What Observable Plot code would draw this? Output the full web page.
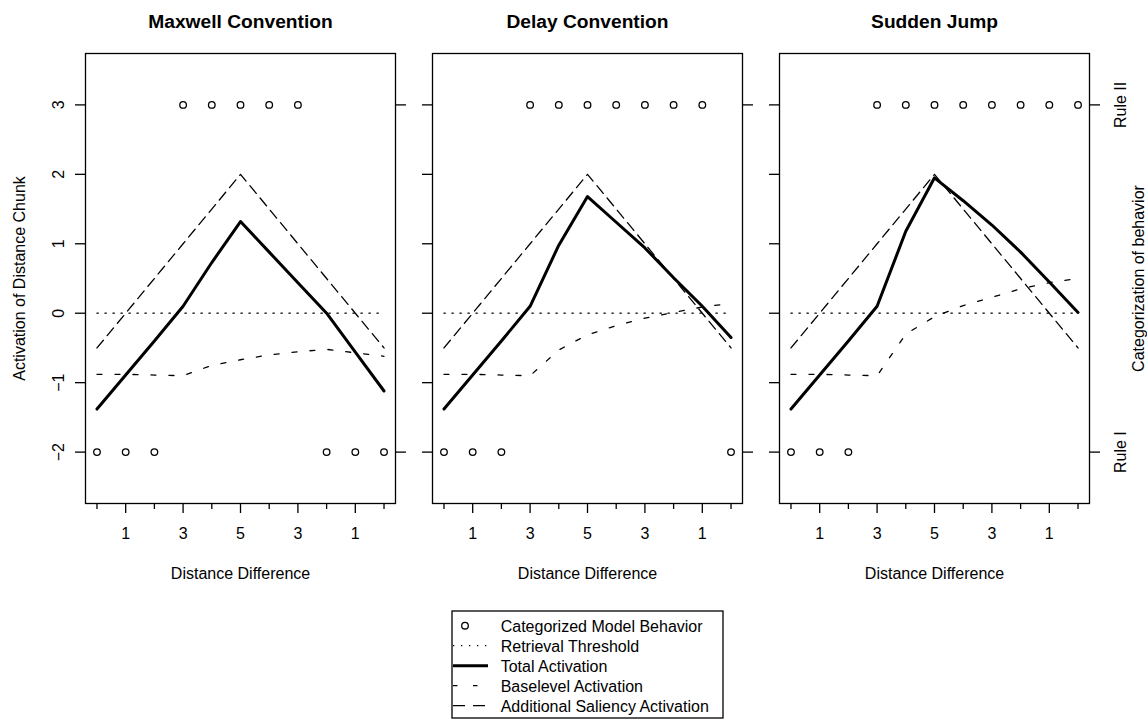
<!DOCTYPE html>
<html>
<head>
<meta charset="utf-8">
<script src="https://cdn.jsdelivr.net/npm/d3@7"></script>
<script src="https://cdn.jsdelivr.net/npm/@observablehq/plot@0.6"></script>
<style>
  body { margin: 0; background: #fff; }
  #chart { position: relative; width: 1147px; height: 723px; background: #fff;
           font-family: "Liberation Sans", Arial, Helvetica, sans-serif; color: #000; }
  .panel { position: absolute; top: 0; }
  #legend { position: absolute; left: 0; top: 0; }
</style>
</head>
<body>
<div id="chart"></div>
<script>
// ---------- data ----------
const positions = [0, 1, 2, 3, 4, 5, 6, 7, 8, 9, 10];
const xTickPos = [1, 3, 5, 7, 9];
const xTickLabels = ["1", "3", "5", "3", "1"];
const xMinorTicks = [0, 2, 4, 6, 8, 10];
const yTicks = [-2, -1, 0, 1, 2, 3];
const yTickLabels = ["\u22122", "\u22121", "0", "1", "2", "3"];
const ruleTicks = [3, -2];
const ruleLabels = ["Rule II", "Rule I"];
const threshold = 0;

const saliency = [-0.5, 0, 0.5, 1, 1.5, 2, 1.5, 1, 0.5, 0, -0.5];

const maxwellTotal = [-1.38, -0.89, -0.40, 0.10, 0.73, 1.32, 0.88, 0.44, 0.00, -0.56, -1.12];
const maxwellBase  = [-0.88, -0.88, -0.89, -0.90, -0.75, -0.67, -0.60, -0.555, -0.52, -0.57, -0.62];
const maxwellCat   = [-2, -2, -2, 3, 3, 3, 3, 3, -2, -2, -2];

const delayTotal = [-1.38, -0.89, -0.40, 0.10, 0.98, 1.68, 1.31, 0.94, 0.51, 0.10, -0.35];
const delayBase  = [-0.88, -0.88, -0.89, -0.90, -0.53, -0.31, -0.18, -0.07, 0.01, 0.09, 0.14];
const delayCat   = [-2, -2, -2, 3, 3, 3, 3, 3, 3, 3, -2];

const jumpTotal = [-1.38, -0.89, -0.40, 0.10, 1.18, 1.95, 1.62, 1.27, 0.88, 0.45, 0.01];
const jumpBase  = [-0.88, -0.88, -0.89, -0.90, -0.30, -0.05, 0.11, 0.23, 0.35, 0.44, 0.50];
const jumpCat   = [-2, -2, -2, 3, 3, 3, 3, 3, 3, 3, 3];

const panelTitles = ["Maxwell Convention", "Delay Convention", "Sudden Jump"];
const xTitle = "Distance Difference";
const yTitle = "Activation of Distance Chunk";
const y2Title = "Categorization of behavior";
const legendLabels = ["Categorized Model Behavior", "Retrieval Threshold", "Total Activation",
                      "Baselevel Activation", "Additional Saliency Activation"];

// ---------- drawing ----------
const FONT = "'Liberation Sans', Arial, Helvetica, sans-serif";
const LW = 1.3;
const DASH_SAL = "10,6";
const DASH_BASE = "5,13";
const DASH_THR = "1.3,6.7";

function panel(cfg) {
  const rows = positions.map((p, i) => ({
    p, total: cfg.total[i], base: cfg.base[i], sal: saliency[i], cat: cfg.cat[i], thr: threshold
  }));
  const marks = [
    Plot.frame({stroke: "#000", strokeWidth: LW}),
    Plot.line(rows, {x: "p", y: "thr", stroke: "#000", strokeWidth: LW, strokeDasharray: DASH_THR}),
    Plot.line(rows, {x: "p", y: "sal", stroke: "#000", strokeWidth: LW, strokeDasharray: DASH_SAL}),
    Plot.line(rows, {x: "p", y: "base", stroke: "#000", strokeWidth: LW, strokeDasharray: DASH_BASE}),
    Plot.line(rows, {x: "p", y: "total", stroke: "#000", strokeWidth: 3}),
    Plot.dot(rows, {x: "p", y: "cat", r: 3.3, stroke: "#000", strokeWidth: LW, fill: "none"}),
    Plot.axisX({ticks: xMinorTicks, tickSize: 6, tickFormat: () => "", strokeWidth: LW, label: null}),
    Plot.axisX({ticks: xTickPos, tickSize: 10, tickPadding: 14, strokeWidth: LW, label: null,
                tickFormat: (d) => xTickLabels[xTickPos.indexOf(d)], fontSize: 16}),
    Plot.text([xTitle], {frameAnchor: "bottom", dy: 75, lineAnchor: "bottom", fontSize: 16, fill: "#000"}),
    Plot.text([cfg.title], {frameAnchor: "top", dy: -25.3, lineAnchor: "bottom", fontSize: 19.2,
                            fontWeight: "bold", fill: "#000"}),
    Plot.axisY({ticks: yTicks, tickSize: 10, tickFormat: () => "", strokeWidth: LW, label: null}),
    Plot.axisY({anchor: "right", ticks: ruleTicks, tickSize: 10, tickFormat: () => "", strokeWidth: LW, label: null})
  ];
  if (cfg.first) {
    marks.push(
      Plot.text(yTicks, {y: (d) => d, text: (d, i) => yTickLabels[i], frameAnchor: "left", dx: -26.8,
                         rotate: -90, textAnchor: "middle", lineAnchor: "middle", fontSize: 16, fill: "#000"}),
      Plot.text([yTitle], {frameAnchor: "left", dx: -66.1, rotate: -90, textAnchor: "middle",
                           lineAnchor: "middle", fontSize: 16, fill: "#000"})
    );
  }
  if (cfg.last) {
    marks.push(
      Plot.text(ruleTicks, {y: (d) => d, text: (d, i) => ruleLabels[i], frameAnchor: "right", dx: 30.9,
                            rotate: -90, textAnchor: "middle", lineAnchor: "middle", fontSize: 16, fill: "#000"}),
      Plot.text([y2Title], {frameAnchor: "right", dx: 49.4, rotate: -90, textAnchor: "middle",
                            lineAnchor: "middle", fontSize: 16, fill: "#000"})
    );
  }
  const svg = Plot.plot({
    width: cfg.width,
    height: 600,
    marginTop: 53,
    marginBottom: 97,
    marginLeft: cfg.mL,
    marginRight: cfg.mR,
    x: {domain: [-0.4, 10.4], axis: null, label: null},
    y: {domain: [-2.74, 3.74], axis: null, label: null},
    style: {fontFamily: FONT, fontSize: "16px", color: "#000", background: "transparent", overflow: "visible"},
    marks
  });
  const wrap = document.createElement("div");
  wrap.className = "panel";
  wrap.style.left = cfg.left + "px";
  wrap.appendChild(svg);
  return wrap;
}

const chart = document.getElementById("chart");
chart.appendChild(panel({title: panelTitles[0], total: maxwellTotal, base: maxwellBase, cat: maxwellCat,
                         left: 0, width: 420, mL: 85, mR: 25, first: true}));
chart.appendChild(panel({title: panelTitles[1], total: delayTotal, base: delayBase, cat: delayCat,
                         left: 400, width: 367, mL: 32, mR: 25}));
chart.appendChild(panel({title: panelTitles[2], total: jumpTotal, base: jumpBase, cat: jumpCat,
                         left: 747, width: 400, mL: 32, mR: 58, last: true}));

// ---------- legend ----------
const legend = d3.select(chart).append("svg")
  .attr("id", "legend").attr("width", 1147).attr("height", 723)
  .style("font-family", FONT).style("font-size", "16px");
legend.append("rect").attr("x", 452).attr("y", 611).attr("width", 271).attr("height", 107)
  .attr("fill", "none").attr("stroke", "#000").attr("stroke-width", LW);
const base0 = 631.7, step = 20;
legendLabels.forEach((t, i) => {
  legend.append("text").attr("x", 500.7).attr("y", base0 + i * step).attr("fill", "#000").text(t);
});
const cy = (i) => base0 + i * step - 6;
legend.append("circle").attr("cx", 465).attr("cy", cy(0)).attr("r", 3.3)
  .attr("fill", "none").attr("stroke", "#000").attr("stroke-width", LW);
legend.append("line").attr("x1", 453).attr("x2", 488).attr("y1", cy(1)).attr("y2", cy(1))
  .attr("stroke", "#000").attr("stroke-width", LW).attr("stroke-dasharray", DASH_THR);
legend.append("line").attr("x1", 453).attr("x2", 488).attr("y1", cy(2)).attr("y2", cy(2))
  .attr("stroke", "#000").attr("stroke-width", 3);
legend.append("line").attr("x1", 453).attr("x2", 488).attr("y1", cy(3)).attr("y2", cy(3))
  .attr("stroke", "#000").attr("stroke-width", LW).attr("stroke-dasharray", "4.5,15.5");
legend.append("line").attr("x1", 453).attr("x2", 488).attr("y1", cy(4)).attr("y2", cy(4))
  .attr("stroke", "#000").attr("stroke-width", LW).attr("stroke-dasharray", "12,8");
</script>
</body>
</html>
